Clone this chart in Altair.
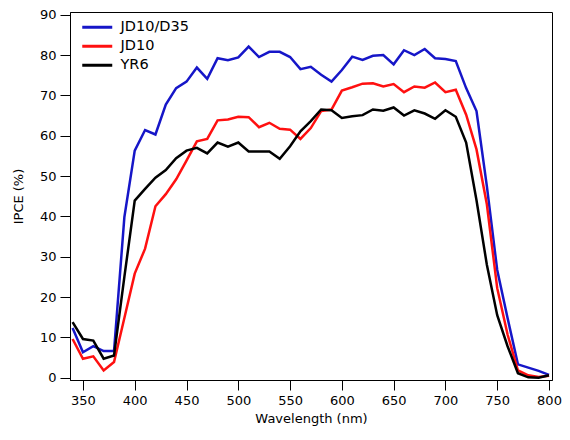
import altair as alt
import pandas as pd

wavelength = list(range(340, 801, 10))

jd10_d35 = [12.3, 6.3, 7.8, 6.6, 6.6, 39.8, 56.3, 61.4, 60.3, 67.7, 71.8, 73.4, 76.9, 74.1,
            79.2, 78.7, 79.4, 82.1, 79.5, 80.8, 80.8, 79.5, 76.5, 77.1, 75.1, 73.4, 76.3,
            79.6, 78.8, 79.8, 80.0, 77.7, 81.2, 80.0, 81.5, 79.2, 79.0, 78.5, 71.8, 66.1,
            47.5, 26.7, 14.8, 3.3, 2.5, 1.7, 0.7]
jd10 = [9.6, 4.7, 5.3, 1.8, 3.9, 14.8, 25.8, 32.0, 42.5, 45.5, 49.2, 53.8, 58.6, 59.2,
        63.8, 64.0, 64.7, 64.6, 62.1, 63.2, 61.7, 61.5, 59.2, 61.9, 66.1, 66.5, 71.2,
        72.0, 72.9, 73.0, 72.2, 72.8, 70.8, 72.2, 71.9, 73.2, 70.8, 71.4, 65.2, 56.6,
        43.0, 22.2, 10.7, 1.8, 0.6, 0.2, 0.5]
yr6 = [13.8, 9.6, 9.2, 4.7, 5.5, 25.0, 43.9, 46.8, 49.6, 51.5, 54.4, 56.3, 57.0, 55.6,
       58.3, 57.3, 58.3, 56.1, 56.1, 56.1, 54.3, 57.4, 61.1, 63.6, 66.5, 66.3, 64.4,
       64.8, 65.1, 66.5, 66.2, 67.0, 65.0, 66.3, 65.5, 64.2, 66.3, 64.7, 58.3, 44.0,
       28.0, 15.5, 7.8, 1.1, 0.1, 0.0, 0.6]

series_names = ["JD10/D35", "JD10", "YR6"]
series_colors = ["#1616c8", "#ff1010", "#000000"]
x_ticks = list(range(350, 801, 50))
y_ticks = list(range(0, 91, 10))

rows = []
for name, vals in zip(series_names, [jd10_d35, jd10, yr6]):
    for w, v in zip(wavelength, vals):
        rows.append({"Wavelength": w, "IPCE": v, "Series": name})
df = pd.DataFrame(rows)

font = "DejaVu Sans"

chart = alt.Chart(df).mark_line(strokeWidth=2.5, clip=True).encode(
    x=alt.X("Wavelength:Q",
            scale=alt.Scale(domain=[337.5, 802.9], nice=False, zero=False),
            axis=alt.Axis(values=x_ticks, title="Wavelength (nm)", grid=False,
                          tickSize=10, labelPadding=4, titlePadding=5)),
    y=alt.Y("IPCE:Q",
            scale=alt.Scale(domain=[-0.57, 90.67], nice=False, zero=False),
            axis=alt.Axis(values=y_ticks, title="IPCE (%)", grid=False,
                          tickSize=10, labelPadding=4, titlePadding=14)),
    color=alt.Color("Series:N",
                    scale=alt.Scale(domain=series_names, range=series_colors),
                    sort=series_names,
                    legend=alt.Legend(title=None, orient="none", legendX=20, legendY=8,
                                      symbolType="M-3,0L3,0", symbolSize=100,
                                      symbolStrokeWidth=3, labelFontSize=14.5,
                                      labelFont=font, labelOffset=16, padding=0,
                                      rowPadding=4)),
    order=alt.Order("Wavelength:Q"),
).properties(
    width=482, height=368,
    autosize=alt.AutoSizeParams(type="none"),
    padding={"left": 62, "top": 4, "right": 10, "bottom": 52},
).configure_view(
    stroke="#000000", strokeWidth=1
).configure_axis(
    domainColor="#000000", tickColor="#000000", labelColor="#000000", titleColor="#000000",
    labelFont=font, titleFont=font, labelFontSize=13, titleFontSize=13,
    titleFontWeight="normal", domainWidth=1, tickWidth=1
)

chart.save("out.html", embed_options={"renderer": "svg", "actions": False})
